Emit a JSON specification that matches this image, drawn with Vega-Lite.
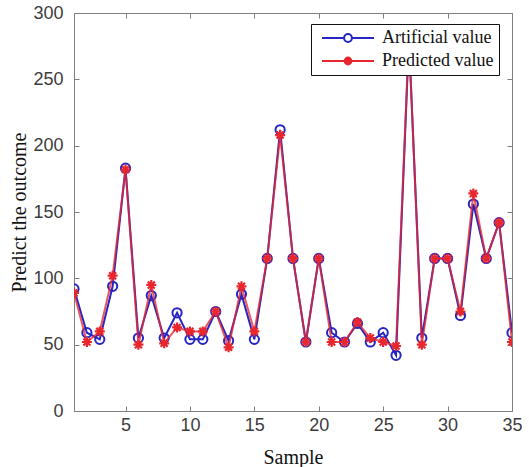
{
  "$schema": "https://vega.github.io/schema/vega-lite/v6.json",
  "width": 438,
  "height": 398,
  "autosize": {"type": "none"},
  "padding": {"left": 74, "top": 13, "right": 17, "bottom": 56},
  "background": "white",
  "config": {
    "view": {"stroke": "#7f7f7f", "strokeWidth": 1},
    "axis": {
      "grid": false,
      "domainColor": "#7f7f7f",
      "tickColor": "#7f7f7f",
      "labelFont": "Liberation Sans",
      "labelFontSize": 18,
      "labelColor": "#3c3c3c",
      "titleFont": "Liberation Serif",
      "titleFontSize": 20,
      "titleFontWeight": "normal",
      "titleColor": "#111111"
    }
  },
  "datasets": {
    "samples": [
      {"sample": 1, "series": "Artificial value", "value": 92},
      {"sample": 2, "series": "Artificial value", "value": 59},
      {"sample": 3, "series": "Artificial value", "value": 54},
      {"sample": 4, "series": "Artificial value", "value": 94},
      {"sample": 5, "series": "Artificial value", "value": 183},
      {"sample": 6, "series": "Artificial value", "value": 55},
      {"sample": 7, "series": "Artificial value", "value": 87},
      {"sample": 8, "series": "Artificial value", "value": 55},
      {"sample": 9, "series": "Artificial value", "value": 74},
      {"sample": 10, "series": "Artificial value", "value": 54},
      {"sample": 11, "series": "Artificial value", "value": 54},
      {"sample": 12, "series": "Artificial value", "value": 75},
      {"sample": 13, "series": "Artificial value", "value": 53},
      {"sample": 14, "series": "Artificial value", "value": 88},
      {"sample": 15, "series": "Artificial value", "value": 54},
      {"sample": 16, "series": "Artificial value", "value": 115},
      {"sample": 17, "series": "Artificial value", "value": 212},
      {"sample": 18, "series": "Artificial value", "value": 115},
      {"sample": 19, "series": "Artificial value", "value": 52},
      {"sample": 20, "series": "Artificial value", "value": 115},
      {"sample": 21, "series": "Artificial value", "value": 59},
      {"sample": 22, "series": "Artificial value", "value": 52},
      {"sample": 23, "series": "Artificial value", "value": 66},
      {"sample": 24, "series": "Artificial value", "value": 52},
      {"sample": 25, "series": "Artificial value", "value": 59},
      {"sample": 26, "series": "Artificial value", "value": 42},
      {"sample": 27, "series": "Artificial value", "value": 280},
      {"sample": 28, "series": "Artificial value", "value": 55},
      {"sample": 29, "series": "Artificial value", "value": 115},
      {"sample": 30, "series": "Artificial value", "value": 115},
      {"sample": 31, "series": "Artificial value", "value": 72},
      {"sample": 32, "series": "Artificial value", "value": 156},
      {"sample": 33, "series": "Artificial value", "value": 115},
      {"sample": 34, "series": "Artificial value", "value": 142},
      {"sample": 35, "series": "Artificial value", "value": 59},
      {"sample": 1, "series": "Predicted value", "value": 89},
      {"sample": 2, "series": "Predicted value", "value": 52},
      {"sample": 3, "series": "Predicted value", "value": 60},
      {"sample": 4, "series": "Predicted value", "value": 102},
      {"sample": 5, "series": "Predicted value", "value": 182},
      {"sample": 6, "series": "Predicted value", "value": 50},
      {"sample": 7, "series": "Predicted value", "value": 95},
      {"sample": 8, "series": "Predicted value", "value": 51},
      {"sample": 9, "series": "Predicted value", "value": 63},
      {"sample": 10, "series": "Predicted value", "value": 60},
      {"sample": 11, "series": "Predicted value", "value": 60},
      {"sample": 12, "series": "Predicted value", "value": 75},
      {"sample": 13, "series": "Predicted value", "value": 48},
      {"sample": 14, "series": "Predicted value", "value": 94},
      {"sample": 15, "series": "Predicted value", "value": 60},
      {"sample": 16, "series": "Predicted value", "value": 115},
      {"sample": 17, "series": "Predicted value", "value": 208},
      {"sample": 18, "series": "Predicted value", "value": 115},
      {"sample": 19, "series": "Predicted value", "value": 52},
      {"sample": 20, "series": "Predicted value", "value": 115},
      {"sample": 21, "series": "Predicted value", "value": 52},
      {"sample": 22, "series": "Predicted value", "value": 52},
      {"sample": 23, "series": "Predicted value", "value": 67},
      {"sample": 24, "series": "Predicted value", "value": 55},
      {"sample": 25, "series": "Predicted value", "value": 52},
      {"sample": 26, "series": "Predicted value", "value": 49},
      {"sample": 27, "series": "Predicted value", "value": 282},
      {"sample": 28, "series": "Predicted value", "value": 50},
      {"sample": 29, "series": "Predicted value", "value": 115},
      {"sample": 30, "series": "Predicted value", "value": 115},
      {"sample": 31, "series": "Predicted value", "value": 75},
      {"sample": 32, "series": "Predicted value", "value": 164},
      {"sample": 33, "series": "Predicted value", "value": 115},
      {"sample": 34, "series": "Predicted value", "value": 142},
      {"sample": 35, "series": "Predicted value", "value": 52}
    ]
  },
  "data": {"name": "samples"},
  "layer": [
    {
      "encoding": {
        "x": {
          "field": "sample",
          "type": "quantitative",
          "scale": {"domain": [1, 35], "nice": false, "zero": false},
          "axis": {"orient": "bottom", "values": [5, 10, 15, 20, 25, 30, 35], "title": "Sample", "tickSize": -5, "labelPadding": 10, "titlePadding": 13, "labelFlush": false}
        },
        "y": {
          "field": "value",
          "type": "quantitative",
          "scale": {"domain": [0, 300], "nice": false},
          "axis": {"orient": "left", "values": [0, 50, 100, 150, 200, 250, 300], "title": "Predict the outcome", "tickSize": -5, "labelPadding": 16, "titlePadding": 3}
        }
      },
      "layer": [
        {
          "transform": [{"filter": "datum.series === 'Artificial value'"}],
          "mark": {"type": "line", "clip": true, "strokeWidth": 2},
          "encoding": {
            "color": {
              "field": "series",
              "type": "nominal",
              "scale": {"domain": ["Artificial value", "Predicted value"], "range": ["#2626c4", "#e8262e"]},
              "legend": {
                "title": null,
                "orient": "none",
                "legendX": 237,
                "legendY": 11,
                "padding": 5,
                "fillColor": "white",
                "strokeColor": "#111111",
                "labelFont": "Liberation Serif",
                "labelFontSize": 18,
                "labelColor": "#111111",
                "labelExpr": "datum.label + '\u2002\u2002\u2009'",
                "labelOffset": 25,
                "symbolOffset": 23,
                "symbolSize": 169,
                "symbolStrokeWidth": 2,
                "rowPadding": 5,
                "symbolType": "M-4,0H-0.6M0.6,0H4M0.6,0A0.6,0.6 0 1,1 -0.6,0A0.6,0.6 0 1,1 0.6,0Z",
                "encode": {
                  "symbols": {
                    "update": {
                      "shape": {"signal": "datum.value === 'Artificial value' ? 'M-4,0H-0.6M0.6,0H4M0.6,0A0.6,0.6 0 1,1 -0.6,0A0.6,0.6 0 1,1 0.6,0Z' : 'M-4,0H4M0.52,0A0.52,0.52 0 1,1 -0.52,0A0.52,0.52 0 1,1 0.52,0Z'"},
                      "fill": {"signal": "datum.value === 'Artificial value' ? 'transparent' : '#e8262e'"},
                      "fillOpacity": {"value": 1},
                      "strokeWidth": {"value": 2}
                    }
                  }
                }
              }
            }
          }
        },
        {
          "transform": [{"filter": "datum.series === 'Artificial value'"}],
          "mark": {"type": "point", "clip": true, "shape": "circle", "filled": false, "size": 85, "strokeWidth": 2, "opacity": 1},
          "encoding": {"color": {"field": "series", "type": "nominal", "legend": null}}
        },
        {
          "transform": [{"filter": "datum.series === 'Predicted value'"}],
          "mark": {"type": "line", "clip": true, "strokeWidth": 2, "strokeOpacity": 0.78},
          "encoding": {"color": {"field": "series", "type": "nominal", "legend": null}}
        },
        {
          "transform": [{"filter": "datum.series === 'Predicted value'"}],
          "mark": {"type": "point", "clip": true, "shape": "M-1,0H1M0,-1V1M-0.7,-0.7L0.7,0.7M-0.7,0.7L0.7,-0.7", "filled": false, "size": 100, "strokeWidth": 2.2, "opacity": 1},
          "encoding": {"color": {"field": "series", "type": "nominal", "legend": null}}
        }
      ]
    },
    {
      "mark": {"type": "point", "opacity": 0},
      "encoding": {
        "x": {
          "field": "sample",
          "type": "quantitative",
          "axis": {"orient": "top", "values": [5, 10, 15, 20, 25, 30, 35], "labels": false, "title": null, "domain": false, "tickSize": -5}
        },
        "y": {
          "field": "value",
          "type": "quantitative",
          "axis": {"orient": "right", "values": [0, 50, 100, 150, 200, 250, 300], "labels": false, "title": null, "domain": false, "tickSize": -5}
        }
      }
    }
  ],
  "resolve": {"axis": {"x": "independent", "y": "independent"}}
}
